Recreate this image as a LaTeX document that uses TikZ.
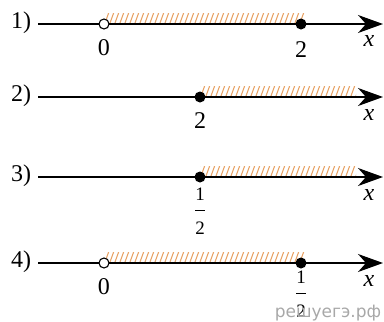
\documentclass[tikz,border=0pt]{standalone}
\usepackage{amsmath}
\usepackage{fontspec}
\setmainfont{Liberation Serif}
\newfontfamily\markfont{DejaVu Sans}
\usetikzlibrary{arrows.meta}
\definecolor{hatchorange}{HTML}{E8A468}
\definecolor{markgray}{HTML}{A8A8A8}
\newcommand{\halfnum}{$\dfrac{\text{\fontsize{19}{19}\selectfont 1}}{\text{\fontsize{19}{19}\selectfont 2}}$}

\begin{document}
\begin{tikzpicture}[x=1pt, y=-1pt,
  axis/.style={line width=1.6pt, -{Stealth[length=25pt, width=18pt, inset=8pt]}},
  hatch/.style={line width=1.1pt, draw=hatchorange},
  opendot/.style={circle, draw, fill=white, line width=1.1pt, inner sep=0pt, minimum size=10pt},
  fulldot/.style={circle, fill=black, inner sep=0pt, minimum size=11pt},
  lbl/.style={font=\fontsize{24}{24}\selectfont, inner sep=0pt},
  tick/.style={font=\fontsize{24}{24}\selectfont, inner sep=0pt},
  var/.style={font=\fontsize{24}{24}\selectfont\itshape, inner sep=0pt}
]
  \useasboundingbox (0,0) rectangle (384,322);

  % 1)
  \node[lbl] (l1) at (21,23) {1)};
  \coordinate (s1) at (38,24);
  \coordinate (e1) at (383,24);
  \begin{scope}
    \clip (104,13) rectangle (304,22.5);
    \foreach \i in {100,105,...,310}
      \draw[hatch] (\i,23) -- (\i+4,12);
  \end{scope}
  \draw[axis] (s1) -- (e1);
  \node[opendot] (a1) at (104,24) {};
  \node[fulldot] (b1) at (301,24) {};
  \node[tick] (t1a) at (104,48) {0};
  \node[tick] (t1b) at (301,50) {2};
  \node[var] (x1) at (369,41) {x};

  % 2)
  \node[lbl] (l2) at (21,96) {2)};
  \coordinate (s2) at (38,97);
  \coordinate (e2) at (383,97);
  \begin{scope}
    \clip (200,86) rectangle (356,95.5);
    \foreach \i in {196,201,...,360}
      \draw[hatch] (\i,96) -- (\i+4,85);
  \end{scope}
  \draw[axis] (s2) -- (e2);
  \node[fulldot] (b2) at (200,97) {};
  \node[tick] (t2) at (200,121) {2};
  \node[var] (x2) at (369,115) {x};

  % 3)
  \node[lbl] (l3) at (21,176) {3)};
  \coordinate (s3) at (38,177);
  \coordinate (e3) at (383,177);
  \begin{scope}
    \clip (200,166) rectangle (356,175.5);
    \foreach \i in {196,201,...,360}
      \draw[hatch] (\i,176) -- (\i+4,165);
  \end{scope}
  \draw[axis] (s3) -- (e3);
  \node[fulldot] (b3) at (200,177) {};
  \node[tick] (t3) at (200,211) {\halfnum};
  \node[var] (x3) at (369,195) {x};

  % 4)
  \node[lbl] (l4) at (21,262) {4)};
  \coordinate (s4) at (38,263);
  \coordinate (e4) at (383,263);
  \begin{scope}
    \clip (104,252) rectangle (304,261.5);
    \foreach \i in {100,105,...,310}
      \draw[hatch] (\i,262) -- (\i+4,251);
  \end{scope}
  \draw[axis] (s4) -- (e4);
  \node[opendot] (a4) at (104,263) {};
  \node[fulldot] (b4) at (301,263) {};
  \node[tick] (t4a) at (104,287) {0};
  \node[tick] (t4b) at (301,294) {\halfnum};
  \node[var] (x4) at (369,281) {x};

  \node[font=\markfont\fontsize{17}{17}\selectfont, text=markgray, inner sep=0pt] (mark) at (328,313) {решуегэ.рф};
\end{tikzpicture}
\end{document}
